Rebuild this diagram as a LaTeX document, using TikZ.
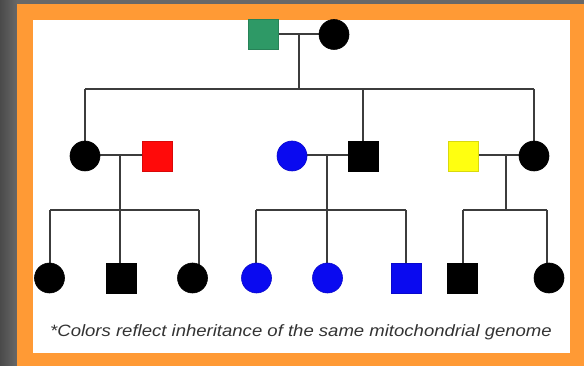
\documentclass[tikz,border=0pt]{standalone}
\usepackage{fontspec}
\newfontfamily\notefont{Liberation Sans}
\usetikzlibrary{backgrounds}

\definecolor{slate}{HTML}{686868}
\definecolor{slatedark}{HTML}{4A4A4A}
\definecolor{framecol}{HTML}{FF9A35}
\definecolor{linecol}{HTML}{3C3C3C}
\definecolor{mitogreen}{HTML}{2E9966}
\definecolor{mitored}{HTML}{FF0A0A}
\definecolor{mitoblue}{HTML}{0A0AF0}
\definecolor{mitoyellow}{HTML}{FFFF10}
\definecolor{notegray}{HTML}{333333}

\tikzset{
  male/.style={rectangle, inner sep=0pt, minimum size=30pt, fill=#1, draw=#1!85!black, line width=0.6pt},
  female/.style={circle, inner sep=0pt, minimum size=30pt, fill=#1, draw=#1!85!black, line width=0.6pt},
  kin/.style={draw=linecol, line width=2pt},
  note/.style={text=notegray, anchor=base, inner sep=0pt, font=\notefont\itshape\fontsize{16.4pt}{19pt}\selectfont}
}

\begin{document}
\begin{tikzpicture}[x=1pt, y=-1pt]
\useasboundingbox (0,0) rectangle (584,366);

% backdrop, orange frame and white panel
\begin{scope}[on background layer]
  \fill[slate] (0,0) rectangle (584,366);
  \shade[left color=slatedark, right color=slate] (0,0) rectangle (17,366);
  \fill[framecol] (17,4) rectangle (584,366);
  \fill[white] (33,20) rectangle (570,353);
\end{scope}

% generation I
\node[male=mitogreen]  (g1m) at (263.5,34.5) {};
\node[female=black]    (g1f) at (334,34.5) {};

% generation II
\node[female=black]      (a2f) at (85,156) {};
\node[male=mitored]      (a2m) at (157,156) {};
\node[female=mitoblue]   (b2f) at (292,156) {};
\node[male=black]        (b2m) at (363,156) {};
\node[male=mitoyellow]   (c2m) at (463.5,156) {};
\node[female=black]      (c2f) at (534,156) {};

% generation III
\node[female=black]    (a3x) at (49.5,278) {};
\node[male=black]      (a3y) at (121.5,278) {};
\node[female=black]    (a3z) at (192.5,278) {};
\node[female=mitoblue] (b3x) at (256.5,278) {};
\node[female=mitoblue] (b3y) at (327.5,278) {};
\node[male=mitoblue]   (b3z) at (406.5,278) {};
\node[male=black]      (c3x) at (462.5,278) {};
\node[female=black]    (c3y) at (549,278) {};

% junction points of the descent lines
\coordinate (g1mid) at (299,34);
\coordinate (g1bar) at (299,89);
\coordinate (g1L)   at (85,89);
\coordinate (g1M)   at (363,89);
\coordinate (g1R)   at (534,89);

\coordinate (a2mid) at (120,155);
\coordinate (a2bar) at (120,210);
\coordinate (a2L)   at (50,210);
\coordinate (a2R)   at (199,210);

\coordinate (b2mid) at (327,155);
\coordinate (b2bar) at (327,210);
\coordinate (b2L)   at (256,210);
\coordinate (b2R)   at (406,210);

\coordinate (c2mid) at (506,155);
\coordinate (c2bar) at (506,210);
\coordinate (c2L)   at (463,210);
\coordinate (c2R)   at (547,210);

\begin{scope}[on background layer]
  % generation I couple and offspring
  \draw[kin] (g1m.center |- g1mid) -- (g1f.center |- g1mid);
  \draw[kin] (g1mid) -- (g1bar);
  \draw[kin] (g1L) -- (g1R);
  \draw[kin] (g1L) -- (a2f);
  \draw[kin] (g1M) -- (b2m);
  \draw[kin] (g1R) -- (c2f);

  % left family
  \draw[kin] (a2f.center |- a2mid) -- (a2m.center |- a2mid);
  \draw[kin] (a2mid) -- (a2bar);
  \draw[kin] (a2L) -- (a2R);
  \draw[kin] (a2L) -- (a2L |- a3x);
  \draw[kin] (a2bar) -- (a2bar |- a3y);
  \draw[kin] (a2R) -- (a2R |- a3z);

  % middle family
  \draw[kin] (b2f.center |- b2mid) -- (b2m.center |- b2mid);
  \draw[kin] (b2mid) -- (b2bar);
  \draw[kin] (b2L) -- (b2R);
  \draw[kin] (b2L) -- (b2L |- b3x);
  \draw[kin] (b2bar) -- (b2bar |- b3y);
  \draw[kin] (b2R) -- (b2R |- b3z);

  % right family
  \draw[kin] (c2m.center |- c2mid) -- (c2f.center |- c2mid);
  \draw[kin] (c2mid) -- (c2bar);
  \draw[kin] (c2L) -- (c2R);
  \draw[kin] (c2L) -- (c2L |- c3x);
  \draw[kin] (c2R) -- (c2R |- c3y);
\end{scope}

% footnote
\node[note] (foot) at (301,337) {\scalebox{1.13}[1]{*Colors reflect inheritance of the same mitochondrial genome}};

\end{tikzpicture}
\end{document}
